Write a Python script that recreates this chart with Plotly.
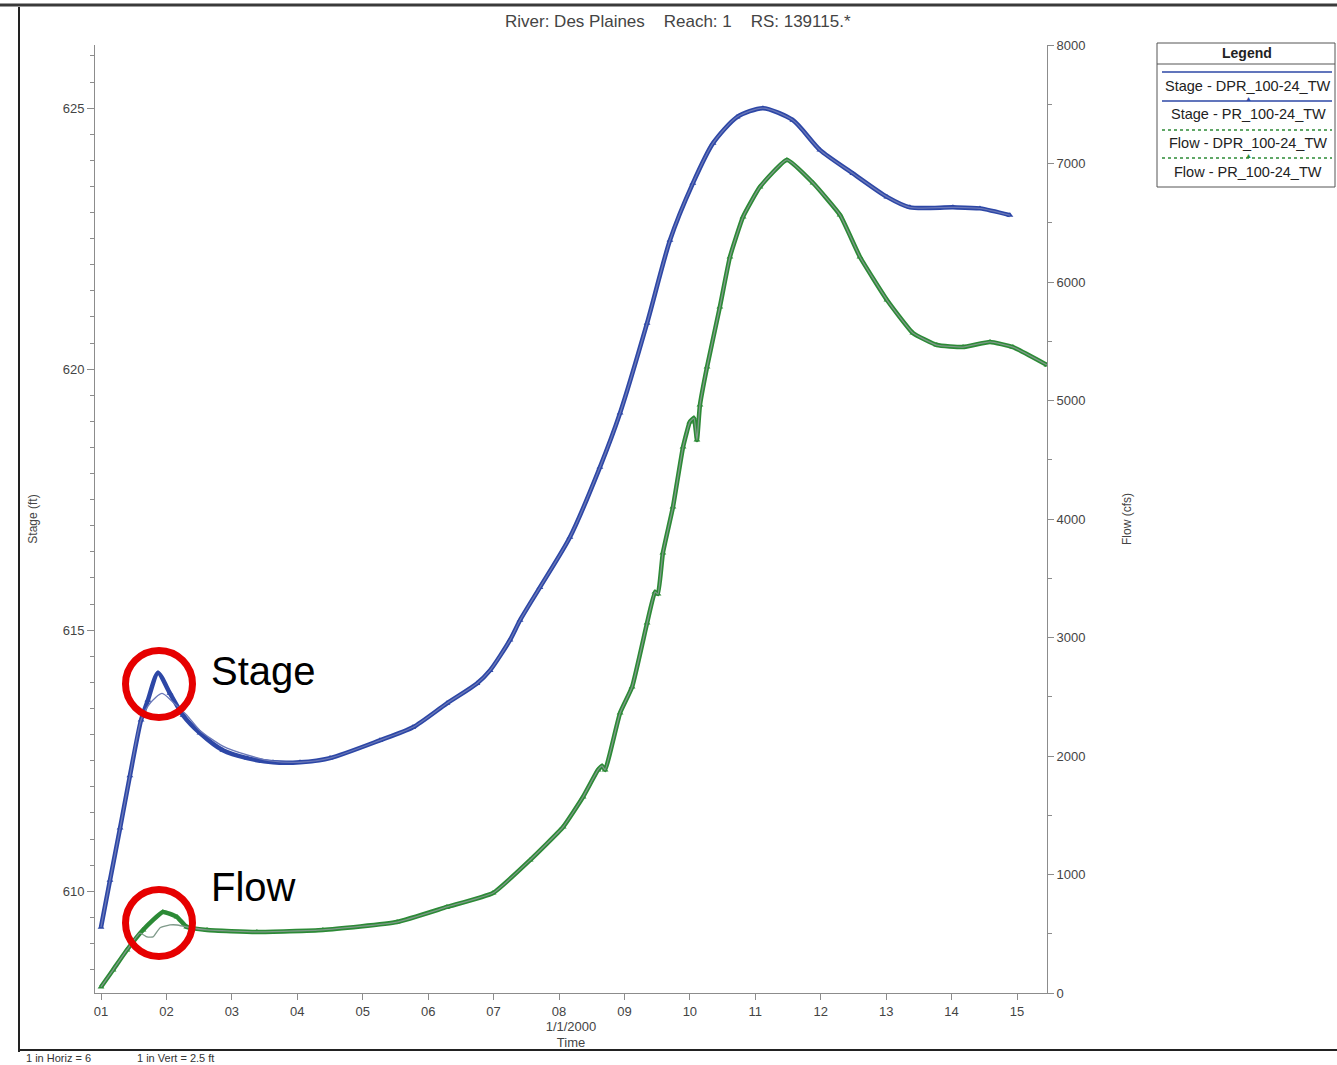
import pandas as pd
import plotly.graph_objects as go

# ---------------- data ----------------
START = pd.Timestamp("2000-01-01 00:00")

stage_pr_hours = [0, 3.3, 7.0, 10.6, 14.7, 17.2, 20.9, 25.3, 30.1, 36.3,
                  44.7, 53.6, 63.1, 73.0, 84.0, 102.3, 114.4, 126.9, 137.9, 142.7,
                  150.0, 153.7, 161.0, 172.0, 183.0, 190.4, 200.3, 208.7, 217.1, 224.5,
                  233.3, 242.8, 253.8, 263.7, 275.8, 288.3, 296.7, 312.5, 322.4, 333.4]
stage_pr = [609.31, 610.21, 611.21, 612.21, 613.28, 613.66, 614.18, 613.79, 613.37, 613.03,
            612.70, 612.55, 612.47, 612.47, 612.55, 612.89, 613.14, 613.60, 613.98, 614.23,
            614.81, 615.19, 615.82, 616.78, 618.12, 619.16, 620.88, 622.47, 623.56, 624.33,
            624.83, 625.00, 624.77, 624.20, 623.75, 623.30, 623.10, 623.10, 623.08, 622.95]

stage_dpr_hours = [0, 3.3, 7.0, 10.6, 14.7, 18.0, 22.4, 26.4, 31.5, 36.3,
                   44.7, 53.6, 63.1, 73.0, 84.0, 102.3, 114.4, 126.9, 137.9, 142.7,
                   150.0, 153.7, 161.0, 172.0, 183.0, 190.4, 200.3, 208.7, 217.1, 224.5,
                   233.3, 242.8, 253.8, 263.7, 275.8, 288.3, 296.7, 312.5, 322.4, 333.4]
stage_dpr = [609.31, 610.21, 611.21, 612.21, 613.28, 613.60, 613.79, 613.62, 613.37, 613.08,
             612.78, 612.61, 612.49, 612.47, 612.55, 612.89, 613.14, 613.60, 613.98, 614.23,
             614.81, 615.19, 615.82, 616.78, 618.12, 619.16, 620.88, 622.47, 623.56, 624.33,
             624.83, 625.00, 624.77, 624.20, 623.75, 623.30, 623.10, 623.10, 623.08, 622.95]

flow_pr_hours = [0, 4.4, 9.5, 15.4, 22.7, 27.9, 31.5, 38.9, 57.2, 81.4,
                 108.6, 126.9, 143.8, 157.4, 169.5, 176.8, 182.3, 183.8, 184.9, 190.4,
                 194.8, 200.3, 203.2, 204.3, 206.1, 209.8, 213.5, 216.0, 217.5, 218.6,
                 219.7, 222.3, 227.0, 230.7, 235.5, 241.7, 251.6, 261.2, 271.1, 278.4,
                 288.3, 297.8, 306.6, 316.2, 326.1, 334.5, 347.0]
flow_pr = [51, 194, 363, 532, 684, 641, 557, 532, 515, 532,
           599, 726, 844, 1122, 1401, 1654, 1882, 1916, 1882, 2363,
           2582, 3122, 3384, 3367, 3713, 4101, 4608, 4819, 4852, 4667,
           4962, 5283, 5789, 6211, 6549, 6802, 7030, 6835, 6565, 6211,
           5848, 5570, 5468, 5451, 5494, 5451, 5300]

flow_dpr_hours = [0, 4.4, 9.5, 14.3, 16.9, 19.1, 21.6, 25.3, 27.9, 31.5,
                  38.9, 57.2, 81.4, 108.6, 126.9, 143.8, 157.4, 169.5, 176.8, 182.3,
                  183.8, 184.9, 190.4, 194.8, 200.3, 203.2, 204.3, 206.1, 209.8, 213.5,
                  216.0, 217.5, 218.6, 219.7, 222.3, 227.0, 230.7, 235.5, 241.7, 251.6,
                  261.2, 271.1, 278.4, 288.3, 297.8, 306.6, 316.2, 326.1, 334.5, 347.0]
flow_dpr = [51, 194, 363, 506, 473, 473, 549, 574, 574, 557,
            532, 515, 532, 599, 726, 844, 1122, 1401, 1654, 1882,
            1916, 1882, 2363, 2582, 3122, 3384, 3367, 3713, 4101, 4608,
            4819, 4852, 4667, 4962, 5283, 5789, 6211, 6549, 6802, 7030,
            6835, 6565, 6211, 5848, 5570, 5468, 5451, 5494, 5451, 5300]

legend_labels = ["Stage - DPR_100-24_TW", "Stage - PR_100-24_TW",
                 "Flow - DPR_100-24_TW", "Flow - PR_100-24_TW"]
title_parts = ["River: Des Plaines", "Reach: 1", "RS: 139115.*"]


def to_time(hours):
    return START + pd.to_timedelta(hours, unit="h")


# ---------------- styling / layout constants ----------------
BLUE = "#2D47A6"
BLUE_THIN = "#6a78b8"
GREEN = "#2C8A36"
GREEN_THIN = "#7f9a8a"
AX = "#8c8c8c"
TXT = "#444444"
FONT = "Liberation Sans, Arial, sans-serif"

W, H = 1337, 1065
L, R, T, B = 95, 1047, 45, 993


def px(x):
    return (x - L) / (R - L)


def py(y):
    return (B - y) / (B - T)


fig = go.Figure()

fig.add_trace(go.Scatter(x=to_time(stage_pr_hours), y=stage_pr, name=legend_labels[1],
                         mode="lines+markers",
                         line=dict(color=BLUE, width=4.5, shape="spline", smoothing=0.7),
                         marker=dict(symbol="triangle-up", size=6, color=BLUE)))
fig.add_trace(go.Scatter(x=to_time(stage_dpr_hours), y=stage_dpr, name=legend_labels[0],
                         mode="lines",
                         line=dict(color=BLUE_THIN, width=1.3, shape="spline", smoothing=0.7)))
fig.add_trace(go.Scatter(x=to_time(flow_pr_hours), y=flow_pr, name=legend_labels[3],
                         mode="lines+markers",
                         line=dict(color=GREEN, width=4.5, shape="spline", smoothing=0.4),
                         marker=dict(symbol="triangle-up", size=6, color=GREEN),
                         yaxis="y2"))
fig.add_trace(go.Scatter(x=to_time(flow_dpr_hours), y=flow_dpr, name=legend_labels[2],
                         mode="lines",
                         line=dict(color=GREEN_THIN, width=1.3, shape="spline", smoothing=0.4),
                         yaxis="y2"))

x_start = START + pd.Timedelta(hours=-2.2)
x_end = START + pd.Timedelta(hours=347.0)

fig.update_layout(
    width=W, height=H,
    margin=dict(l=L, r=W - R, t=T, b=H - B),
    paper_bgcolor="white", plot_bgcolor="white",
    showlegend=False,
    font=dict(family=FONT, color=TXT, size=13),
    xaxis=dict(type="date", range=[x_start, x_end], showgrid=False, zeroline=False,
               showline=True, linecolor=AX, linewidth=1,
               ticks="outside", ticklen=6, tickcolor=AX,
               tick0="2000-01-01", dtick=86400000, tickformat="%d",
               tickfont=dict(size=13, color=TXT),
               title=dict(text="1/1/2000<br>Time", font=dict(size=13, color=TXT), standoff=2)),
    yaxis=dict(range=[608.05, 626.21], showgrid=False, zeroline=False,
               showline=True, linecolor=AX, linewidth=1,
               ticks="outside", ticklen=7, tickcolor=AX, tick0=610, dtick=5,
               minor=dict(dtick=0.5, ticklen=4, tickcolor=AX, ticks="outside", showgrid=False),
               tickfont=dict(size=13, color=TXT),
               title=dict(text="Stage (ft)", font=dict(size=12, color=TXT), standoff=22)),
    yaxis2=dict(range=[0, 8000], overlaying="y", side="right", showgrid=False, zeroline=False,
                showline=True, linecolor=AX, linewidth=1,
                ticks="outside", ticklen=6, tickcolor=AX, tick0=0, dtick=1000,
                minor=dict(dtick=500, ticklen=4, tickcolor=AX, ticks="outside", showgrid=False),
                tickfont=dict(size=13, color=TXT),
                title=dict(text="Flow (cfs)", font=dict(size=12, color=TXT), standoff=38)),
)

shapes = []
annotations = []


def note(text, x, y, size, color="#222", xanchor="center", family=FONT):
    annotations.append(dict(text=text, xref="paper", yref="paper", x=px(x), y=py(y),
                            xanchor=xanchor, yanchor="middle", showarrow=False,
                            font=dict(size=size, color=color, family=family)))


def hline(x0, x1, y, color, width, dash="solid"):
    shapes.append(dict(type="line", xref="paper", yref="paper", x0=px(x0), x1=px(x1),
                       y0=py(y), y1=py(y), line=dict(color=color, width=width, dash=dash)))


# scanned page frame
hline(0, W, 5, "#3a3a3a", 3)
shapes.append(dict(type="line", xref="paper", yref="paper", x0=px(19), x1=px(19), y0=py(7), y1=py(1052),
                   line=dict(color="#222222", width=2)))
hline(19, W, 1050, "#222222", 2)

# title
sp = "\u00a0" * 4
note(sp.join(title_parts), 678, 21, 17, TXT)

# scale note at page bottom
note("1 in Horiz = 6", 24, 1058, 11, "#333", xanchor="left")
note("1 in Vert = 2.5 ft", 135, 1058, 11, "#333", xanchor="left")

# legend box (HEC-RAS style)
LX0, LX1, LY0, LY1 = 1157, 1335, 43, 187
shapes.append(dict(type="rect", xref="paper", yref="paper", x0=px(LX0), x1=px(LX1), y0=py(LY0), y1=py(LY1),
                   line=dict(color="#555555", width=1), fillcolor="white"))
hline(LX0, LX1, 64, "#555555", 1)
note("<b>Legend</b>", 1247, 53, 14, "#222")
sample_y = [72, 101, 130, 158]
text_y = [86, 114, 143, 172]
sample_style = [(BLUE, "solid", False), (BLUE, "solid", True), (GREEN, "dot", False), (GREEN, "dot", True)]
for lab, sy, ty, (col, dash, mark) in zip(legend_labels, sample_y, text_y, sample_style):
    hline(1162, 1332, sy, col, 1.3, dash)
    if mark:
        note("\u25b2", 1248, sy - 2, 7, col)
    note(lab, 1248, ty, 14.5, "#222")

# red highlight circles and labels
RC = 33.5
for cx, cy in [(159, 684), (159, 923)]:
    shapes.append(dict(type="circle", xref="paper", yref="paper",
                       x0=px(cx - RC), x1=px(cx + RC), y0=py(cy + RC), y1=py(cy - RC),
                       line=dict(color="#E60000", width=7)))
note("Stage", 209, 671, 40, "black", xanchor="left")
note("Flow", 209, 887, 40, "black", xanchor="left")

fig.update_layout(shapes=shapes, annotations=annotations)

fig.write_html("out.html", config={"displayModeBar": False},
               post_script="document.body.style.margin='0';")
